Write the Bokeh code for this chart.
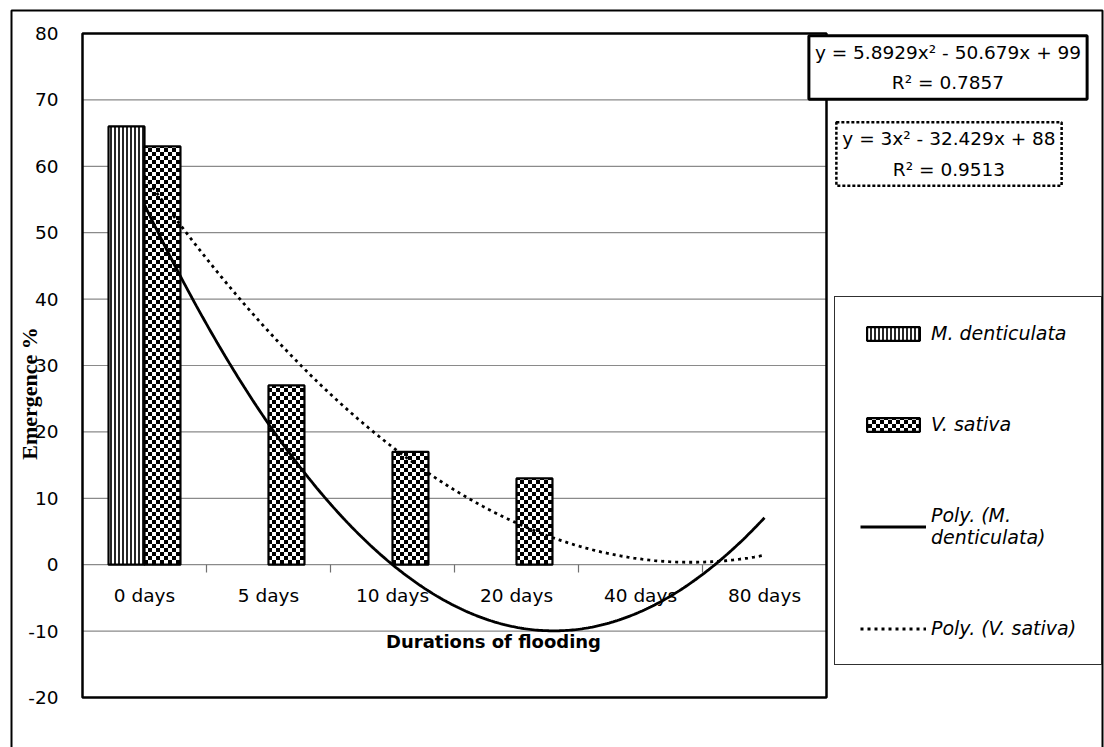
import numpy as np
from bokeh.plotting import figure
from bokeh.models import Range1d, ColumnDataSource, Label, Legend, LegendItem, CanvasTexture
from bokeh.core.properties import value
from bokeh.embed import file_html
from bokeh.resources import INLINE

# ---------------- data ----------------
categories = ["0 days", "5 days", "10 days", "20 days", "40 days", "80 days"]
m_denticulata = [66, 0, 0, 0, 0, 0]
v_sativa = [63, 27, 17, 13, 0, 0]
y_ticks = [-20, -10, 0, 10, 20, 30, 40, 50, 60, 70, 80]
series_names = ["M. denticulata", "V. sativa", "Poly. (M.\ndenticulata)", "Poly. (V. sativa)"]
eq_m = "y = 5.8929x\u00b2 - 50.679x + 99\nR\u00b2 = 0.7857"
eq_v = "y = 3x\u00b2 - 32.429x + 88\nR\u00b2 = 0.9513"
x_title = "Durations of flooding"
y_title = "Emergence %"

# ---------------- layout helpers (pixel -> data) ----------------
W, H = 1104, 747
PX_X0, PX_CAT = 82.0, 124.0
PX_Y80, PX_UNIT = 33.0, 6.64


def dx(px):
    return (px - PX_X0) / PX_CAT


def dy(py):
    return 80 - (py - PX_Y80) / PX_UNIT


FONT = "DejaVu Sans"

p = figure(width=W, height=H, x_range=Range1d(dx(0), dx(W)), y_range=Range1d(dy(H), dy(0)),
           output_backend="svg", toolbar_location=None, x_axis_type=None, y_axis_type=None,
           min_border=0, min_border_left=0, min_border_right=0, min_border_top=0, min_border_bottom=0)
p.outline_line_color = None
p.background_fill_color = "white"
p.border_fill_color = "white"

n = len(categories)
pos = np.arange(n) + 0.5

# gridlines (inside the plot box)
grid_y = [t for t in y_ticks if t > y_ticks[0]]
p.segment(x0=[0] * len(grid_y), x1=[n] * len(grid_y), y0=grid_y, y1=grid_y,
          line_color="#8a8a8a", line_width=1.2)

# category tick marks on the zero line
bounds = list(range(1, n))
p.segment(x0=bounds, x1=bounds, y0=[0] * len(bounds), y1=[dy(572)] * len(bounds),
          line_color="#707070", line_width=1.2)

# ---------------- bars ----------------
half, bw = 0.145, 0.29
m_src = ColumnDataSource(dict(
    x=[x - half for x, v in zip(pos, m_denticulata) if v != 0],
    top=[v for v in m_denticulata if v != 0]))
v_src = ColumnDataSource(dict(
    x=[x + half for x, v in zip(pos, v_sativa) if v != 0],
    top=[v for v in v_sativa if v != 0]))
v_src.data["pat"] = ["checker"] * len(v_src.data["x"])

# checkerboard fill (4 px squares)
checker = CanvasTexture(code="""
var s = 8, h = 4;
try { if (ctx.canvas) { ctx.canvas.width = s; ctx.canvas.height = s; } } catch (e) {}
try { ctx.setTransform(1, 0, 0, 1, 0, 0); } catch (e) {}
ctx.fillStyle = "#ffffff";
ctx.fillRect(0, 0, s, s);
ctx.fillStyle = "#000000";
ctx.fillRect(0, 0, h, h);
ctx.fillRect(h, h, h, h);
""")

rm = p.vbar(x="x", top="top", bottom=0, width=bw, source=m_src,
            fill_color="white", line_color="black", line_width=2.2,
            hatch_pattern="vertical_line", hatch_color="black", hatch_scale=4, hatch_weight=1.7)
rv = p.vbar(x="x", top="top", bottom=0, width=bw, source=v_src,
            fill_color="white", line_color="black", line_width=2.2,
            hatch_pattern="pat", hatch_extra={"checker": checker},
            hatch_color="black", hatch_scale=8, hatch_weight=1)

# polynomial trendlines (least-squares fits of the data, as in the original)
xi = np.arange(1, n + 1)
cm = np.polyfit(xi, m_denticulata, 2)
cv = np.polyfit(xi, v_sativa, 2)
xs = np.linspace(1, n, 300)
lm = p.line(xs - 0.5, np.polyval(cm, xs), line_color="black", line_width=2.8)
lv = p.line(xs - 0.5, np.polyval(cv, xs), line_color="black", line_width=2.8, line_dash="3 4")

# plot box and outer chart border
p.quad(left=[0], right=[n], bottom=[y_ticks[0]], top=[y_ticks[-1]],
       fill_color=None, line_color="black", line_width=2.5)
p.quad(left=[dx(11)], right=[dx(1102)], bottom=[dy(760)], top=[dy(10)],
       fill_color=None, line_color="black", line_width=2)

# y tick labels
p.text(x=[dx(58)] * len(y_ticks), y=y_ticks, text=[str(t) for t in y_ticks],
       text_align="right", text_baseline="middle", text_font=value(FONT),
       text_font_size="18.5px", text_color="black")

# category labels
p.text(x=pos, y=[0] * n, text=categories, y_offset=31,
       text_align="center", text_baseline="middle", text_font=value(FONT),
       text_font_size="18.5px", text_color="black")

# axis titles
p.add_layout(Label(x=dx(493), y=dy(641), text=x_title, text_align="center", text_baseline="middle",
                   text_font=FONT, text_font_style="bold", text_font_size="18px", text_color="black"))
p.add_layout(Label(x=dx(29), y=dy(393), text=y_title, angle=np.pi / 2, text_align="center",
                   text_baseline="middle", text_font="Liberation Serif", text_font_style="bold",
                   text_font_size="22px", text_color="black"))

# equation boxes
p.add_layout(Label(x=dx(947.5), y=dy(67), text=eq_m, text_align="center", text_baseline="middle",
                   text_font=FONT, text_font_size="18.5px", text_line_height=1.45, text_color="black",
                   border_line_color="black", border_line_width=3, background_fill_color="white",
                   padding=6))
p.add_layout(Label(x=dx(948.5), y=dy(153.5), text=eq_v, text_align="center", text_baseline="middle",
                   text_font=FONT, text_font_size="18.5px", text_line_height=1.45, text_color="black",
                   border_line_color="black", border_line_width=2.5, border_line_dash="3 2",
                   background_fill_color="white", padding=6))

# legend
legend = Legend(items=[LegendItem(label=value(series_names[0]), renderers=[rm]),
                       LegendItem(label=value(series_names[1]), renderers=[rv]),
                       LegendItem(label=value(series_names[2]), renderers=[lm]),
                       LegendItem(label=value(series_names[3]), renderers=[lv])],
                location=(834, 82), orientation="vertical",
                border_line_color="#303030", border_line_width=1.2, border_line_alpha=1.0,
                background_fill_color="white", background_fill_alpha=1.0,
                padding=25, spacing=69, margin=0, glyph_width=66, glyph_height=17,
                label_standoff=5, label_height=20, label_width=140,
                label_text_font=FONT, label_text_font_style="italic", label_text_font_size="19px",
                label_text_color="black")
p.add_layout(legend)

open("out.html", "w").write(file_html(p, INLINE))
